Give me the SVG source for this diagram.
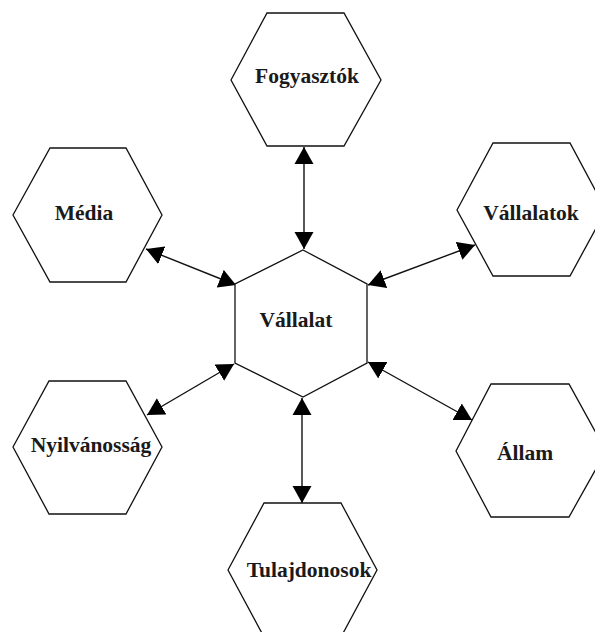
<svg xmlns="http://www.w3.org/2000/svg" width="595" height="632" viewBox="0 0 595 632">
<style>
.hex{fill:#fff;stroke:#111;stroke-width:1.3}
.lbl{font-family:"Liberation Serif","Times New Roman",serif;font-weight:bold;font-size:21.5px;fill:#1a1a1a;text-anchor:middle}
.con{stroke:#111;stroke-width:1.4;fill:none;marker-start:url(#ah);marker-end:url(#ah)}
</style>
<defs>
<marker id="ah" markerUnits="userSpaceOnUse" viewBox="0 -10 17 20" markerWidth="17" markerHeight="20" refX="17" refY="0" orient="auto-start-reverse">
<path d="M0,-9.5 L17,0 L0,9.5 z" fill="#000"/>
</marker>
</defs>
<rect width="595" height="632" fill="#fff"/>
<g id="connectors">
<line class="con" x1="304" y1="147" x2="304" y2="249"/>
<line class="con" x1="146" y1="249" x2="236" y2="285"/>
<line class="con" x1="368" y1="285" x2="475" y2="245"/>
<line class="con" x1="234" y1="364" x2="147" y2="415"/>
<line class="con" x1="368" y1="362" x2="472" y2="420"/>
<line class="con" x1="302" y1="398" x2="302" y2="503"/>
</g>
<g id="vallalat">
<polygon class="hex" points="303,250 367,284 367,363 303,397 235,363 235,284"/>
<text class="lbl" x="296" y="327">Vállalat</text>
</g>
<g id="fogyasztok">
<polygon class="hex" points="231,80 267,13 344,13 381,80 344,146 267,146"/>
<text class="lbl" x="307" y="83">Fogyasztók</text>
</g>
<g id="media">
<polygon class="hex" points="13,215 50,148 126,148 162,215 126,282 50,282"/>
<text class="lbl" x="84" y="220">Média</text>
</g>
<g id="vallalatok">
<polygon class="hex" points="457,210 493,143 570,143 606,210 570,276 493,276"/>
<text class="lbl" x="531" y="220">Vállalatok</text>
</g>
<g id="nyilvanossag">
<polygon class="hex" points="13,447 49,381 126,381 162,447 126,514 49,514"/>
<text class="lbl" x="91" y="452">Nyilvánosság</text>
</g>
<g id="allam">
<polygon class="hex" points="456,451 491,384 569,384 606,451 569,517 491,517"/>
<text class="lbl" x="525" y="460">Állam</text>
</g>
<g id="tulajdonosok">
<polygon class="hex" points="228,570 264,503 341,503 377,570 341,637 264,637"/>
<text class="lbl" x="309" y="577">Tulajdonosok</text>
</g>
</svg>
